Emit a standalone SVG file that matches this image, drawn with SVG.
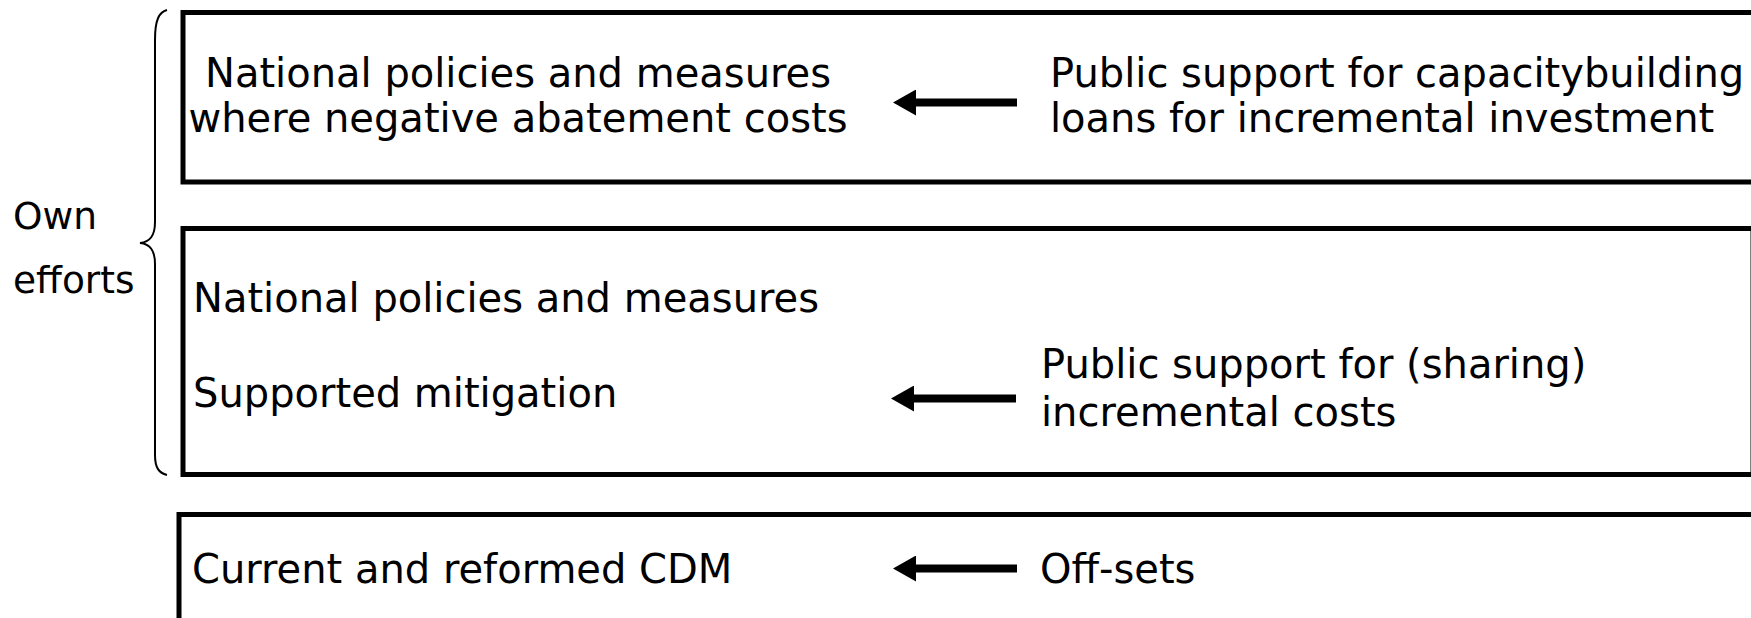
<svg xmlns="http://www.w3.org/2000/svg" width="1751" height="618" viewBox="0 0 1751 618">
<style>
.box{fill:#fff;stroke:#000;stroke-width:5}
.t{font-family:"DejaVu Sans",Verdana,sans-serif;font-size:40px;fill:#000}
.s{font-size:37.5px}
.arr{stroke:#000;stroke-width:8;fill:none}
.brace{stroke:#000;stroke-width:2;fill:none}
</style>
<defs>
<marker id="ah" markerUnits="userSpaceOnUse" markerWidth="24" markerHeight="26" viewBox="0 0 24 26" refX="1" refY="13" orient="auto">
<path d="M0,0 L23,13 L0,26 z" fill="#000"/>
</marker>
</defs>
<rect width="1751" height="618" fill="#fff"/>
<g id="own-efforts">
<path class="brace" d="M167,10 C159,12 155,20 155,40 L155,222 C155,236 150,242 140,243 C150,244 155,250 155,264 L155,455 C155,468 159,473 167,475"/>
<text class="t s" x="13" y="229">Own</text>
<text class="t s" x="13" y="293">efforts</text>
</g>
<g id="box-negative">
<rect class="box" x="183" y="12.5" width="1600" height="169.5"/>
<text class="t" x="518" y="87" text-anchor="middle">National policies and measures</text>
<text class="t" x="518" y="132" text-anchor="middle">where negative abatement costs</text>
<text class="t" x="1050" y="87">Public support for capacitybuilding</text>
<text class="t" x="1050" y="132">loans for incremental investment</text>
</g>
<g id="box-supported">
<rect class="box" x="183" y="228.5" width="1570" height="246"/>
<text class="t" x="193" y="312">National policies and measures</text>
<text class="t" x="193" y="407">Supported mitigation</text>
<text class="t" x="1041" y="378">Public support for (sharing)</text>
<text class="t" x="1041" y="426">incremental costs</text>
</g>
<g id="box-cdm">
<rect class="box" x="179" y="514.5" width="1600" height="200"/>
<text class="t" x="192" y="582.5">Current and reformed CDM</text>
<text class="t" x="1040" y="583">Off-sets</text>
</g>
<g id="connectors">
<line class="arr" x1="1017" y1="102.5" x2="915" y2="102.5" marker-end="url(#ah)"/>
<line class="arr" x1="1016" y1="398.5" x2="913" y2="398.5" marker-end="url(#ah)"/>
<line class="arr" x1="1017" y1="568.5" x2="915" y2="568.5" marker-end="url(#ah)"/>
</g>
</svg>
